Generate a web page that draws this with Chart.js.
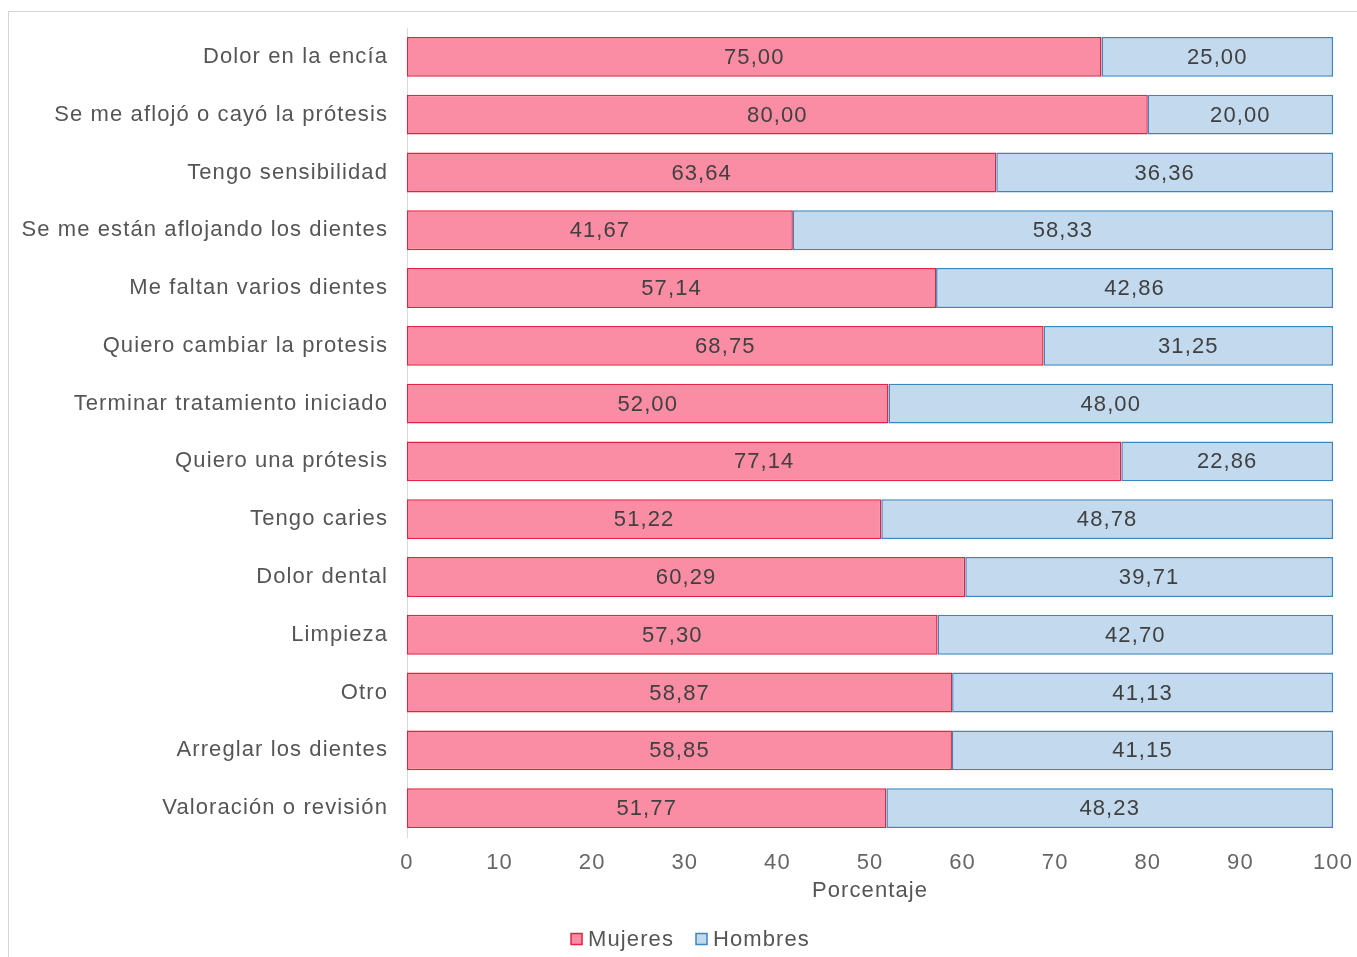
<!DOCTYPE html>
<html><head><meta charset="utf-8">
<script src="https://cdn.jsdelivr.net/npm/chart.js@4/dist/chart.umd.min.js"></script>
<style>
html,body{margin:0;padding:0;background:#fff;}
#wrap{position:absolute;left:0;top:0;width:1357px;height:957px;overflow:hidden;}
#frame{position:absolute;left:8px;top:11px;width:1400px;height:1000px;border-top:1px solid #d4d4d4;border-left:1px solid #d4d4d4;}
canvas{position:absolute;left:0;top:0;}
</style></head>
<body>
<div id="wrap"><div id="frame"></div><canvas id="c" width="1357" height="957"></canvas></div>
<script>
const categories = ["Dolor en la encía","Se me aflojó o cayó la prótesis","Tengo sensibilidad","Se me están aflojando los dientes","Me faltan varios dientes","Quiero cambiar la protesis","Terminar tratamiento iniciado","Quiero una prótesis","Tengo caries","Dolor dental","Limpieza","Otro","Arreglar los dientes","Valoración o revisión"];
const mujeres = [75.00,80.00,63.64,41.67,57.14,68.75,52.00,77.14,51.22,60.29,57.30,58.87,58.85,51.77];
const hombres = [25.00,20.00,36.36,58.33,42.86,31.25,48.00,22.86,48.78,39.71,42.70,41.13,41.15,48.23];
const xTicks = [0,10,20,30,40,50,60,70,80,90,100];

const FONT = "'Liberation Sans', Arial, Helvetica, sans-serif";
const SP = '1.1px';
const spacingPlugin = {
  id:'spacing',
  beforeUpdate(chart){ chart.ctx.letterSpacing = SP; },
  beforeLayout(chart){ chart.ctx.letterSpacing = SP; },
  beforeDraw(chart){ chart.ctx.letterSpacing = SP; }
};
const labelPlugin = {
  id:'barLabels',
  afterDatasetsDraw(chart){
    const ctx = chart.ctx;
    ctx.save();
    ctx.letterSpacing = SP;
    ctx.font = "22px " + FONT;
    ctx.fillStyle = "#404040";
    ctx.textAlign = "center";
    ctx.textBaseline = "middle";
    chart.data.datasets.forEach((ds,di)=>{
      const meta = chart.getDatasetMeta(di);
      meta.data.forEach((bar,i)=>{
        const x = (bar.x + bar.base)/2;
        ctx.fillText(ds.data[i].toFixed(2).replace('.',','), x, bar.y+1);
      });
    });
    ctx.restore();
  }
};
const legendPlugin = {
  id:'bottomLegend',
  afterDraw(chart){
    const ctx = chart.ctx;
    ctx.save();
    ctx.letterSpacing = SP;
    ctx.font = "22px " + FONT;
    ctx.textBaseline = "middle";
    ctx.textAlign = "left";
    const box = 11, gapBT = 6, gapItem = 22;
    const items = chart.data.datasets.map(ds => ({text:ds.label, fill:ds.backgroundColor, stroke:ds.borderColor, w:ctx.measureText(ds.label).width}));
    let total = 0;
    items.forEach((it,i)=>{ total += box + gapBT + it.w + (i ? gapItem : 0); });
    const cy = 939;
    let x = chart.width/2 + 12 - total/2;
    items.forEach((it)=>{
      ctx.fillStyle = it.fill; ctx.strokeStyle = it.stroke; ctx.lineWidth = 1.5;
      ctx.fillRect(x, cy - box/2, box, box);
      ctx.strokeRect(x, cy - box/2, box, box);
      x += box + gapBT;
      ctx.fillStyle = '#555';
      ctx.fillText(it.text, x, cy + 1);
      x += it.w + gapItem;
    });
    ctx.restore();
  }
};

new Chart(document.getElementById('c'), {
  type:'bar',
  data:{
    labels: categories,
    datasets:[
      {label:'Mujeres', data:mujeres, backgroundColor:'#FA8CA3', borderColor:'#E3233F', borderWidth:1.5, borderSkipped:false, categoryPercentage:1, barPercentage:0.69},
      {label:'Hombres', data:hombres, backgroundColor:'#C3D9EE', borderColor:'#3A86BF', borderWidth:1.5, borderSkipped:false, categoryPercentage:1, barPercentage:0.69}
    ]
  },
  options:{
    indexAxis:'y',
    responsive:false,
    animation:false,
    layout:{padding:{left:0,right:24,top:28,bottom:37}},
    plugins:{
      legend:{display:false},
      tooltip:{enabled:false}
    },
    scales:{
      x:{stacked:true, min:0, max:100,
        grid:{display:false, drawTicks:false},
        border:{display:false},
        ticks:{stepSize:10, color:'#666', font:{family:FONT,size:22}, padding:13,
          callback:(v)=> xTicks.includes(v) ? String(v) : ''},
        title:{display:true, text:'Porcentaje', color:'#555', font:{family:FONT,size:22}, padding:{top:0,bottom:16}},
        afterFit(scale){ scale.height = 83; scale.paddingLeft = 0; scale.paddingRight = 0; }
      },
      y:{stacked:true,
        grid:{display:false, drawTicks:false},
        border:{display:true, color:'#d9d9d9', width:1},
        ticks:{color:'#555', font:{family:FONT,size:22}, padding:19},
        afterFit(scale){ scale.width = 407; scale.paddingTop = 0; scale.paddingBottom = 0; }
      }
    }
  },
  plugins:[spacingPlugin, labelPlugin, legendPlugin]
});
</script>
</body></html>
